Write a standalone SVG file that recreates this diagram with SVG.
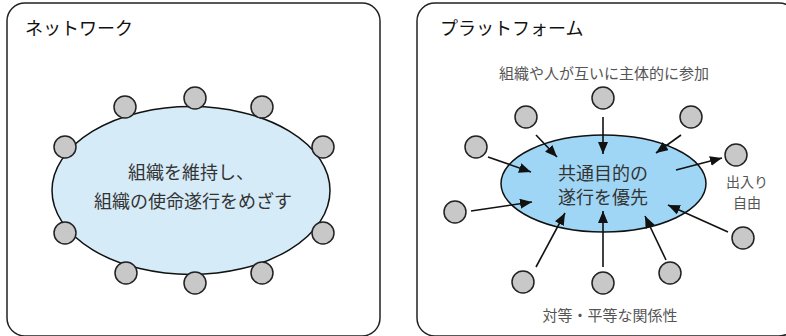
<svg xmlns="http://www.w3.org/2000/svg" width="786" height="336" viewBox="0 0 786 336">
<defs>
<marker id="ah" viewBox="0 0 12 10" refX="12" refY="5" markerWidth="12" markerHeight="10" markerUnits="userSpaceOnUse" orient="auto">
<path d="M0,0 L12,5 L0,10 z" fill="#111"/>
</marker>
</defs>
<style>
.panel{fill:#fff;stroke:#222;stroke-width:1.5}
.title{font-family:"Noto Sans CJK JP","Noto Sans",sans-serif;font-size:18px;font-weight:400;fill:#111}
.body{font-family:"Noto Sans CJK JP","Noto Sans",sans-serif;font-size:18px;fill:#333;text-anchor:middle}
.lbl{font-family:"Noto Sans CJK JP","Noto Sans",sans-serif;font-size:15px;fill:#555;text-anchor:middle}
.node{fill:#c8c8c8;stroke:#222;stroke-width:1.5}
.arr{stroke:#111;stroke-width:1.6;fill:none;marker-end:url(#ah)}
</style>
<g id="panel-network">
<rect class="panel" x="7" y="3" width="373" height="333" rx="18"/>
<text class="title" x="25" y="35">ネットワーク</text>
</g>
<g id="panel-platform">
<rect class="panel" x="417" y="3" width="380" height="333" rx="18"/>
<text class="title" x="440" y="35">プラットフォーム</text>
</g>
<g id="net-core">
<ellipse cx="191" cy="190.5" rx="139" ry="84" fill="#d5ebf8" stroke="#111" stroke-width="1.5"/>
<text class="body" x="191" y="179">組織を維持し、</text>
<text class="body" x="193" y="208">組織の使命遂行をめざす</text>
</g>
<g id="net-nodes">
<circle class="node" cx="125" cy="107" r="11"/>
<circle class="node" cx="195" cy="98" r="11"/>
<circle class="node" cx="262" cy="107" r="11"/>
<circle class="node" cx="65" cy="147" r="11"/>
<circle class="node" cx="323" cy="147" r="11"/>
<circle class="node" cx="65" cy="233" r="11"/>
<circle class="node" cx="323" cy="233" r="11"/>
<circle class="node" cx="126" cy="273" r="11"/>
<circle class="node" cx="195" cy="283" r="11"/>
<circle class="node" cx="262" cy="273" r="11"/>
</g>
<g id="plat-core">
<ellipse cx="603.5" cy="183.5" rx="102.5" ry="48.5" fill="#a0d6f5" stroke="#111" stroke-width="1.5"/>
<text class="body" x="603" y="180">共通目的の</text>
<text class="body" x="603" y="204">遂行を優先</text>
</g>
<g id="plat-nodes">
<circle class="node" cx="603" cy="98" r="11"/>
<circle class="node" cx="526" cy="117" r="11"/>
<circle class="node" cx="691" cy="117" r="11"/>
<circle class="node" cx="476" cy="147" r="11"/>
<circle class="node" cx="736" cy="155" r="11"/>
<circle class="node" cx="455" cy="212" r="11"/>
<circle class="node" cx="743" cy="238" r="11"/>
<circle class="node" cx="523" cy="282" r="11"/>
<circle class="node" cx="603" cy="283" r="11"/>
<circle class="node" cx="670" cy="273" r="11"/>
</g>
<g id="connectors">
<line class="arr" x1="603" y1="117" x2="603" y2="154"/>
<line class="arr" x1="536" y1="135" x2="557" y2="157"/>
<line class="arr" x1="681" y1="135" x2="656" y2="153"/>
<line class="arr" x1="488" y1="157" x2="531" y2="172"/>
<line class="arr" x1="676" y1="170" x2="722" y2="158"/>
<line class="arr" x1="471" y1="211" x2="532" y2="202"/>
<line class="arr" x1="728" y1="232" x2="668" y2="205"/>
<line class="arr" x1="536" y1="267" x2="565" y2="213"/>
<line class="arr" x1="603" y1="267" x2="603" y2="211"/>
<line class="arr" x1="666" y1="260" x2="645" y2="216"/>
</g>
<g id="labels">
<text class="lbl" x="604" y="79">組織や人が互いに主体的に参加</text>
<text class="lbl" x="747" y="187" style="font-size:14px">出入り</text>
<text class="lbl" x="747" y="208" style="font-size:14px">自由</text>
<text class="lbl" x="610" y="321">対等・平等な関係性</text>
</g>
</svg>
